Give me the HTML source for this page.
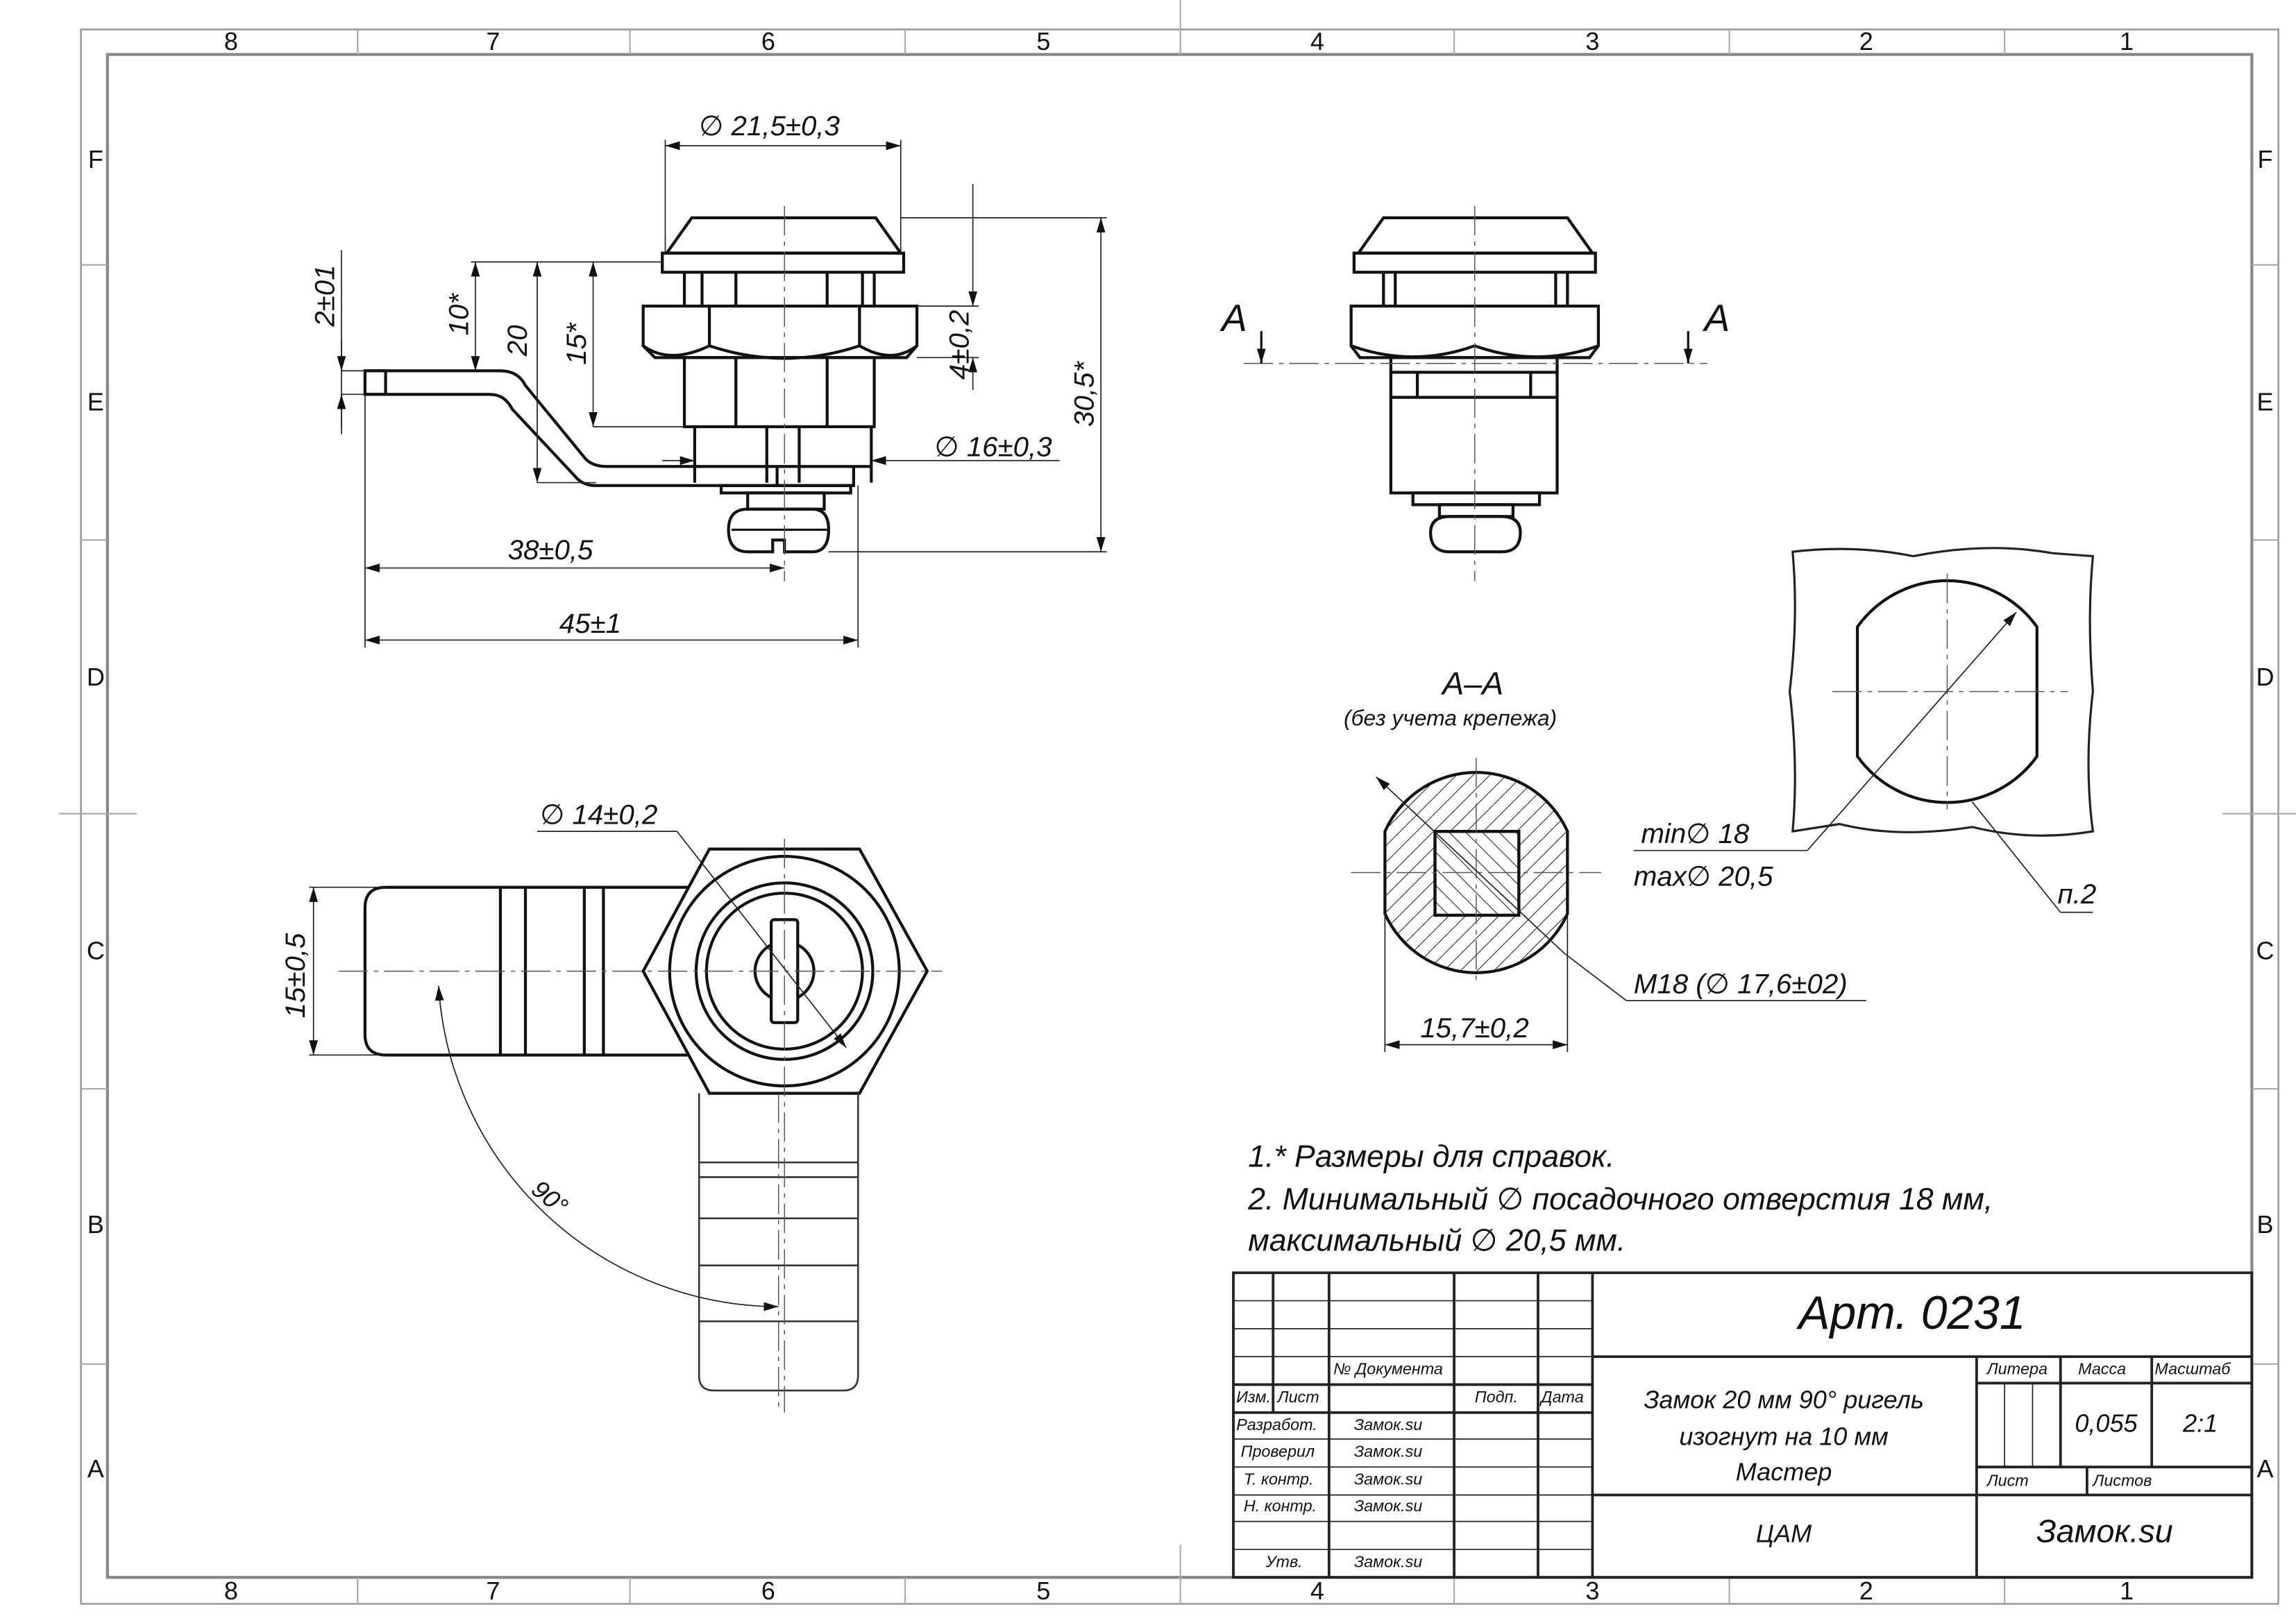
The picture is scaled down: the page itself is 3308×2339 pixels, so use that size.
<!DOCTYPE html>
<html><head><meta charset="utf-8"><style>
html,body{margin:0;padding:0;background:#fff}
svg{display:block}
text{font-family:"Liberation Sans","DejaVu Sans",sans-serif;font-style:italic;fill:#111}
</style></head><body>
<svg width="3308" height="2339" viewBox="0 0 1560 1103" xmlns="http://www.w3.org/2000/svg">
<defs>
<marker id="ar" markerWidth="10" markerHeight="6" refX="10" refY="3" orient="auto-start-reverse" markerUnits="userSpaceOnUse"><path d="M0,0 L10,3 L0,6z" fill="#111"/></marker>
<pattern id="hat" width="8" height="8" patternUnits="userSpaceOnUse" patternTransform="rotate(45)"><line x1="0" y1="0" x2="0" y2="8" stroke="#222" stroke-width="1"/></pattern>
<pattern id="hat2" width="8" height="8" patternUnits="userSpaceOnUse" patternTransform="rotate(-45)"><line x1="0" y1="0" x2="0" y2="8" stroke="#222" stroke-width="1"/></pattern>
</defs>
<rect width="1560" height="1103" fill="#fff"/>
<g fill="none" stroke="#999" stroke-width="1.2">
<rect x="55" y="20" width="1493" height="1070"/>
</g>
<rect x="73" y="37" width="1457" height="1035" fill="none" stroke="#888" stroke-width="2"/>
<g stroke="#aaa" stroke-width="1">
<line x1="243" y1="20" x2="243" y2="37"/><line x1="428" y1="20" x2="428" y2="37"/><line x1="615" y1="20" x2="615" y2="37"/><line x1="802" y1="20" x2="802" y2="37"/><line x1="988" y1="20" x2="988" y2="37"/><line x1="1175" y1="20" x2="1175" y2="37"/><line x1="1362" y1="20" x2="1362" y2="37"/>
<line x1="243" y1="1072" x2="243" y2="1090"/><line x1="428" y1="1072" x2="428" y2="1090"/><line x1="615" y1="1072" x2="615" y2="1090"/><line x1="802" y1="1050" x2="802" y2="1090"/><line x1="988" y1="1072" x2="988" y2="1090"/><line x1="1175" y1="1072" x2="1175" y2="1090"/><line x1="1362" y1="1072" x2="1362" y2="1090"/>
<line x1="55" y1="180" x2="73" y2="180"/><line x1="55" y1="367" x2="73" y2="367"/><line x1="40" y1="553" x2="93" y2="553"/><line x1="55" y1="740" x2="73" y2="740"/><line x1="55" y1="927" x2="73" y2="927"/>
<line x1="1530" y1="180" x2="1548" y2="180"/><line x1="1530" y1="367" x2="1548" y2="367"/><line x1="1510" y1="553" x2="1560" y2="553"/><line x1="1530" y1="740" x2="1548" y2="740"/><line x1="1530" y1="927" x2="1548" y2="927"/>
<line x1="802" y1="0" x2="802" y2="37"/>
</g>
<g font-size="17" style="font-style:normal" text-anchor="middle">
<text x="157" y="34" style="font-style:normal">8</text><text x="335" y="34" style="font-style:normal">7</text><text x="522" y="34" style="font-style:normal">6</text><text x="709" y="34" style="font-style:normal">5</text><text x="895" y="34" style="font-style:normal">4</text><text x="1082" y="34" style="font-style:normal">3</text><text x="1268" y="34" style="font-style:normal">2</text><text x="1445" y="34" style="font-style:normal">1</text>
<text x="157" y="1087" style="font-style:normal">8</text><text x="335" y="1087" style="font-style:normal">7</text><text x="522" y="1087" style="font-style:normal">6</text><text x="709" y="1087" style="font-style:normal">5</text><text x="895" y="1087" style="font-style:normal">4</text><text x="1082" y="1087" style="font-style:normal">3</text><text x="1268" y="1087" style="font-style:normal">2</text><text x="1445" y="1087" style="font-style:normal">1</text>
<text x="65" y="114" style="font-style:normal">F</text><text x="65" y="279" style="font-style:normal">E</text><text x="65" y="466" style="font-style:normal">D</text><text x="65" y="652" style="font-style:normal">C</text><text x="65" y="838" style="font-style:normal">B</text><text x="65" y="1004" style="font-style:normal">A</text>
<text x="1539" y="114" style="font-style:normal">F</text><text x="1539" y="279" style="font-style:normal">E</text><text x="1539" y="466" style="font-style:normal">D</text><text x="1539" y="652" style="font-style:normal">C</text><text x="1539" y="838" style="font-style:normal">B</text><text x="1539" y="1004" style="font-style:normal">A</text>
</g>

<g fill="none" stroke="#111" stroke-width="2">
<path d="M470,148 L595,148 L612,172 L453,172 Z"/>
<rect x="450" y="172" width="164" height="13"/>
<line x1="465" y1="185" x2="465" y2="208"/><line x1="477" y1="185" x2="477" y2="208"/><line x1="500" y1="185" x2="500" y2="208"/><line x1="562" y1="185" x2="562" y2="208"/><line x1="586" y1="185" x2="586" y2="208"/><line x1="594" y1="185" x2="594" y2="208"/>
<path d="M437,208 L623,208 L623,235 L616,243 L445,243 L437,235 Z"/>
<line x1="482" y1="208" x2="482" y2="235"/><line x1="584" y1="208" x2="584" y2="235"/>
<path d="M437,235 Q455,248 482,235 Q533,252 584,235 Q606,248 623,235"/>
<rect x="465" y="243" width="129" height="47"/>
<line x1="500" y1="243" x2="500" y2="290"/><line x1="562" y1="243" x2="562" y2="290"/>
<path d="M472,290 L472,328 M521,290 L521,328 M543,290 L543,328 M592,290 L592,328"/>
<path d="M248,252 L340,252 Q352,252 357,262 L398,312 Q403,317 412,317 L592,317"/>
<path d="M248,268 L333,268 Q343,268 348,278 L391,324 Q396,330 405,330 L580,330 L580,317"/>
<rect x="248" y="252" width="14" height="16"/>
<line x1="528" y1="317" x2="528" y2="330"/>
<rect x="490" y="330" width="88" height="5"/>
<rect x="508" y="335" width="52" height="11"/>
<path d="M508,346 Q495,346 495,360 Q495,375 508,375 L525,375 L525,367 L533,367 L533,375 L552,375 Q563,375 563,360 Q563,346 552,346 Z"/>
<line x1="497" y1="360" x2="562" y2="360" stroke-width="1.5"/>
</g>
<g stroke="#555" stroke-width="0.7" stroke-dasharray="20,4,3,4" fill="none">
<line x1="533" y1="140" x2="533" y2="395"/>
</g>
<g stroke="#222" stroke-width="0.8" fill="none">
<line x1="452" y1="95" x2="452" y2="172"/><line x1="612" y1="95" x2="612" y2="172"/>
<line x1="452" y1="99" x2="612" y2="99" marker-start="url(#ar)" marker-end="url(#ar)"/>
<line x1="232" y1="170" x2="232" y2="295"/>
<line x1="232" y1="230" x2="232" y2="252" marker-end="url(#ar)"/><line x1="232" y1="290" x2="232" y2="268" marker-end="url(#ar)"/>
<line x1="232" y1="252" x2="248" y2="252"/><line x1="232" y1="268" x2="248" y2="268"/>
<line x1="320" y1="178" x2="450" y2="178"/>
<line x1="323" y1="178" x2="323" y2="252" marker-start="url(#ar)" marker-end="url(#ar)"/>
<line x1="365" y1="178" x2="365" y2="328" marker-start="url(#ar)" marker-end="url(#ar)"/>
<line x1="365" y1="328" x2="405" y2="328"/>
<line x1="403" y1="178" x2="403" y2="290" marker-start="url(#ar)" marker-end="url(#ar)"/>
<line x1="403" y1="290" x2="465" y2="290"/>
<line x1="612" y1="148" x2="752" y2="148"/><line x1="563" y1="375" x2="752" y2="375"/>
<line x1="748" y1="148" x2="748" y2="375" marker-start="url(#ar)" marker-end="url(#ar)"/>
<line x1="623" y1="208" x2="665" y2="208"/><line x1="623" y1="243" x2="665" y2="243"/>
<line x1="661" y1="125" x2="661" y2="208" marker-end="url(#ar)"/><line x1="661" y1="265" x2="661" y2="243" marker-end="url(#ar)"/>
<line x1="450" y1="313" x2="472" y2="313" marker-end="url(#ar)"/><line x1="720" y1="313" x2="592" y2="313" marker-end="url(#ar)"/>
<line x1="248" y1="268" x2="248" y2="440"/><line x1="583" y1="330" x2="583" y2="440"/>
<line x1="248" y1="386" x2="533" y2="386" marker-start="url(#ar)" marker-end="url(#ar)"/>
<line x1="248" y1="435" x2="583" y2="435" marker-start="url(#ar)" marker-end="url(#ar)"/>
</g>
<g font-size="19">
<text x="475" y="92">∅ 21,5±0,3</text>
<text x="635" y="310">∅ 16±0,3</text>
<text x="345" y="380">38±0,5</text>
<text x="380" y="430">45±1</text>
<text transform="translate(227,222) rotate(-90)">2±01</text>
<text transform="translate(318,228) rotate(-90)">10*</text>
<text transform="translate(358,242) rotate(-90)">20</text>
<text transform="translate(398,248) rotate(-90)">15*</text>
<text transform="translate(658,258) rotate(-90)">4±0,2</text>
<text transform="translate(743,290) rotate(-90)">30,5*</text>
</g>

<g fill="none" stroke="#111" stroke-width="2">
<path d="M940,148 L1065,148 L1082,172 L923,172 Z"/>
<rect x="920" y="172" width="164" height="13"/>
<line x1="940" y1="185" x2="940" y2="208"/><line x1="948" y1="185" x2="948" y2="208"/><line x1="1057" y1="185" x2="1057" y2="208"/><line x1="1065" y1="185" x2="1065" y2="208"/>
<path d="M918,208 L1086,208 L1086,235 L1080,243 L924,243 L918,235 Z"/>
<path d="M918,235 Q960,250 1002,235 Q1044,250 1086,235"/>
<rect x="945" y="243" width="113" height="92"/>
<line x1="945" y1="253" x2="1058" y2="253"/><line x1="945" y1="270" x2="1058" y2="270"/>
<line x1="963" y1="253" x2="963" y2="270"/><line x1="1040" y1="253" x2="1040" y2="270"/>
<rect x="960" y="335" width="86" height="8"/>
<rect x="978" y="343" width="50" height="8"/>
<path d="M985,351 Q972,351 972,362 Q972,375 985,375 L1020,375 Q1033,375 1033,362 Q1033,351 1020,351 Z"/>
</g>
<g stroke="#555" stroke-width="0.7" stroke-dasharray="20,4,3,4" fill="none">
<line x1="1002" y1="140" x2="1002" y2="395"/>
<line x1="845" y1="247" x2="1160" y2="247"/>
</g>
<g stroke="#111" stroke-width="1.5" fill="none">
<line x1="857" y1="225" x2="857" y2="247" marker-end="url(#ar)"/>
<line x1="1147" y1="225" x2="1147" y2="247" marker-end="url(#ar)"/>
</g>
<text x="830" y="225" font-size="26">A</text>
<text x="1158" y="225" font-size="26">A</text>

<text x="980" y="472" font-size="22">А–А</text>
<text x="913" y="493" font-size="15">(без учета крепежа)</text>
<g>
<path d="M941,565 A68,68 0 0 1 1065,565 L1065,621 A68,68 0 0 1 941,621 Z" fill="url(#hat)" stroke="#111" stroke-width="2"/>
<rect x="975" y="565" width="57" height="57" fill="#fff" stroke="#111" stroke-width="2"/>
<rect x="975" y="565" width="57" height="57" fill="url(#hat2)" stroke="#111" stroke-width="2"/>
</g>
<g stroke="#555" stroke-width="0.7" stroke-dasharray="20,4,3,4" fill="none">
<line x1="1003" y1="515" x2="1003" y2="670"/><line x1="918" y1="593" x2="1088" y2="593"/>
</g>
<g stroke="#222" stroke-width="0.8" fill="none">
<line x1="941" y1="621" x2="941" y2="715"/><line x1="1065" y1="621" x2="1065" y2="715"/>
<line x1="941" y1="710" x2="1065" y2="710" marker-start="url(#ar)" marker-end="url(#ar)"/>
<line x1="935" y1="528" x2="1063" y2="648" marker-start="url(#ar)"/>
<line x1="1063" y1="648" x2="1105" y2="680"/><line x1="1105" y1="680" x2="1268" y2="680"/>
</g>
<text x="965" y="705" font-size="19">15,7±0,2</text>
<text x="1110" y="675" font-size="19">M18  (∅ 17,6±02)</text>

<path d="M1218,375 Q1260,370 1300,378 Q1350,368 1395,376 L1422,378 Q1418,420 1422,470 Q1416,520 1422,565 Q1380,572 1340,562 Q1290,570 1250,560 L1218,565 Q1222,520 1216,470 Q1222,420 1218,375 Z" fill="none" stroke="#222" stroke-width="1.5"/>
<path d="M1262,426 A75,75 0 0 1 1384,426 L1384,514 A75,75 0 0 1 1262,514 Z" fill="none" stroke="#111" stroke-width="2"/>
<g stroke="#555" stroke-width="0.7" stroke-dasharray="20,4,3,4" fill="none">
<line x1="1323" y1="390" x2="1323" y2="550"/><line x1="1245" y1="470" x2="1405" y2="470"/>
</g>
<g stroke="#222" stroke-width="0.8" fill="none">
<line x1="1228" y1="578" x2="1370" y2="416" marker-end="url(#ar)"/>
<line x1="1228" y1="578" x2="1110" y2="578"/>
<line x1="1340" y1="545" x2="1400" y2="620"/><line x1="1400" y1="620" x2="1422" y2="620"/>
</g>
<text x="1115" y="573" font-size="19">min∅  18</text>
<text x="1110" y="602" font-size="19">max∅ 20,5</text>
<text x="1398" y="614" font-size="19">п.2</text>

<g fill="none" stroke="#111" stroke-width="2">
<path d="M262,603 L470,603 L470,717 L262,717 Q248,717 248,703 L248,617 Q248,603 262,603 Z"/>
<line x1="340" y1="603" x2="340" y2="717"/><line x1="357" y1="603" x2="357" y2="717"/><line x1="397" y1="603" x2="397" y2="717"/><line x1="410" y1="603" x2="410" y2="717"/>
<path d="M482,577 L584,577 L630,660 L584,743 L482,743 L437,660 Z" fill="#fff"/>
<circle cx="533" cy="660" r="78"/>
<circle cx="533" cy="660" r="60"/>
<circle cx="533" cy="660" r="53"/>
<circle cx="533" cy="660" r="20"/>
<rect x="524" y="625" width="18" height="70" rx="2" fill="#fff"/>
</g>
<g fill="none" stroke="#333" stroke-width="1.2">
<path d="M475,743 L475,935 Q475,945 485,945 L573,945 Q583,945 583,935 L583,743"/>
<line x1="475" y1="790" x2="583" y2="790"/><line x1="475" y1="800" x2="583" y2="800"/><line x1="475" y1="828" x2="583" y2="828"/><line x1="475" y1="860" x2="583" y2="860"/><line x1="475" y1="898" x2="583" y2="898"/>
</g>
<g stroke="#555" stroke-width="0.7" stroke-dasharray="20,4,3,4" fill="none">
<line x1="230" y1="660" x2="640" y2="660"/><line x1="533" y1="570" x2="533" y2="960"/><line x1="529" y1="743" x2="529" y2="960"/>
</g>
<g stroke="#222" stroke-width="0.8" fill="none">
<line x1="210" y1="603" x2="262" y2="603"/><line x1="210" y1="717" x2="262" y2="717"/>
<line x1="213" y1="603" x2="213" y2="717" marker-start="url(#ar)" marker-end="url(#ar)"/>
<line x1="365" y1="565" x2="460" y2="565"/>
<line x1="460" y1="565" x2="575" y2="712" marker-end="url(#ar)"/>
<path d="M298,670 A232,232 0 0 0 529,888" marker-start="url(#ar)" marker-end="url(#ar)"/>
</g>
<text x="367" y="560" font-size="19">∅ 14±0,2</text>
<text transform="translate(207,692) rotate(-90)" font-size="19">15±0,5</text>
<text transform="translate(360,810) rotate(40)" font-size="17">90°</text>

<g font-size="21">
<text x="848" y="793">1.* Размеры для справок.</text>
<text x="848" y="822">2. Минимальный ∅ посадочного отверстия 18 мм,</text>
<text x="848" y="850">максимальный ∅  20,5 мм.</text>
</g>

<g fill="none" stroke="#222" stroke-width="1.8">
<rect x="838" y="865" width="692" height="207"/>
<line x1="1082" y1="865" x2="1082" y2="1072"/>
<line x1="1082" y1="922" x2="1530" y2="922"/>
<line x1="1082" y1="1016" x2="1530" y2="1016"/>
<line x1="1343" y1="922" x2="1343" y2="1072"/>
<line x1="1343" y1="940" x2="1530" y2="940"/>
<line x1="1343" y1="997" x2="1530" y2="997"/>
<line x1="1400" y1="922" x2="1400" y2="997"/><line x1="1462" y1="922" x2="1462" y2="997"/>
<line x1="1418" y1="997" x2="1418" y2="1016"/>
<line x1="838" y1="941" x2="1082" y2="941"/><line x1="838" y1="960" x2="1082" y2="960"/>
<line x1="865" y1="865" x2="865" y2="960"/>
<line x1="903" y1="865" x2="903" y2="1072"/>
<line x1="988" y1="865" x2="988" y2="1072"/>
<line x1="1045" y1="865" x2="1045" y2="1072"/>
</g>
<g fill="none" stroke="#222" stroke-width="0.8">
<line x1="838" y1="884" x2="1082" y2="884"/><line x1="838" y1="903" x2="1082" y2="903"/><line x1="838" y1="922" x2="1082" y2="922"/>
<line x1="838" y1="978" x2="1082" y2="978"/><line x1="838" y1="997" x2="1082" y2="997"/><line x1="838" y1="1016" x2="1082" y2="1016"/><line x1="838" y1="1034" x2="1082" y2="1034"/><line x1="838" y1="1053" x2="1082" y2="1053"/>
<line x1="1362" y1="940" x2="1362" y2="997"/><line x1="1381" y1="940" x2="1381" y2="997"/>
</g>
<g font-size="11">
<text x="906" y="934">№ Документа</text>
<text x="840" y="953">Изм.</text><text x="868" y="953">Лист</text><text x="1002" y="953">Подп.</text><text x="1047" y="953">Дата</text>
<text x="840" y="972">Разработ.</text><text x="920" y="972">Замок.su</text>
<text x="843" y="990">Проверил</text><text x="920" y="990">Замок.su</text>
<text x="845" y="1009">Т. контр.</text><text x="920" y="1009">Замок.su</text>
<text x="845" y="1027">Н. контр.</text><text x="920" y="1027">Замок.su</text>
<text x="860" y="1065">Утв.</text><text x="920" y="1065">Замок.su</text>
<text x="1350" y="934">Литера</text><text x="1412" y="934">Масса</text><text x="1464" y="934">Масштаб</text>
<text x="1350" y="1010">Лист</text><text x="1422" y="1010">Листов</text>
</g>
<text x="1222" y="903" font-size="32">Арт. 0231</text>
<g font-size="17" text-anchor="middle">
<text x="1212" y="957">Замок 20 мм 90° ригель</text>
<text x="1212" y="982">изогнут на 10 мм</text>
<text x="1212" y="1006">Мастер</text>
<text x="1212" y="1048">ЦАМ</text>
<text x="1431" y="973">0,055</text><text x="1495" y="973">2:1</text>
</g>
<text x="1430" y="1048" font-size="22" text-anchor="middle">Замок.su</text>
</svg>
</body></html>
